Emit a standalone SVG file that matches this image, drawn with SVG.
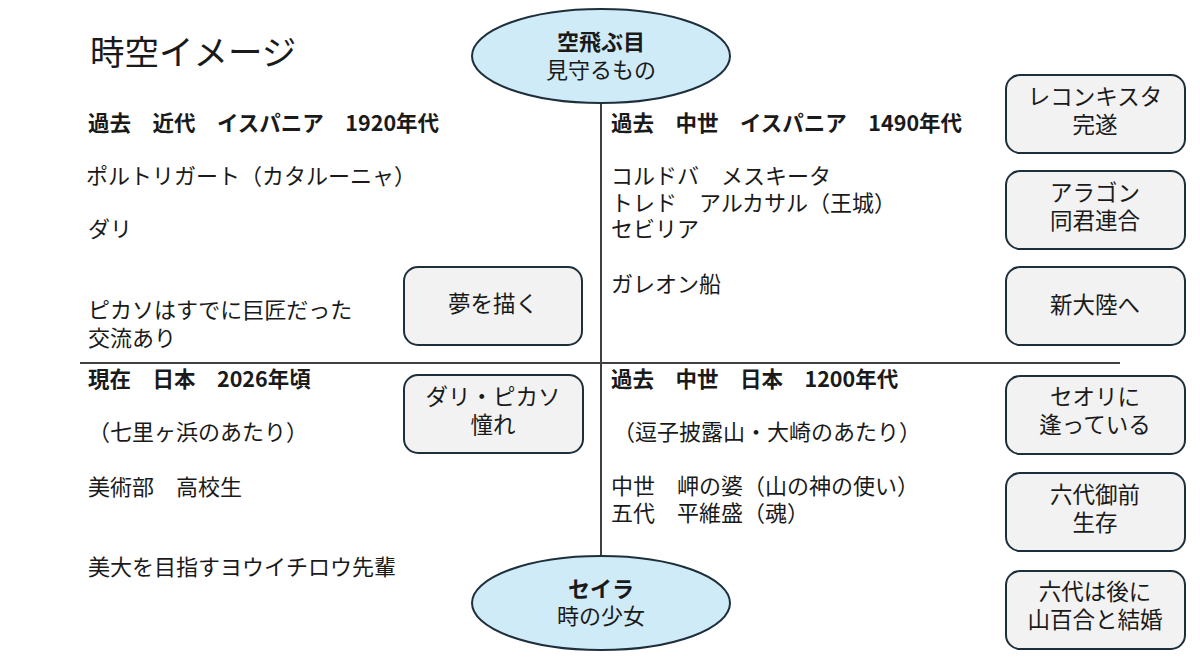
<svg xmlns="http://www.w3.org/2000/svg" width="1200" height="670" viewBox="0 0 1200 670">
<style>
text{font-family:"Noto Sans CJK JP","Noto Sans",sans-serif;fill:#1a1a1a;}
.t{font-size:22px;}
.h{font-size:21.5px;font-weight:bold;}
.c{text-anchor:middle;font-size:22.5px;}
.box{fill:#f2f2f2;stroke:#1e2f3c;stroke-width:2;}
.ell{fill:#d0ebf8;stroke:#1e2f3c;stroke-width:2;}
.ln{stroke:#404040;stroke-width:2;fill:none;}
</style>
<rect width="1200" height="670" fill="#ffffff"/>
<g id="connectors">
<line class="ln" x1="601" y1="103" x2="601" y2="556"/>
<line class="ln" x1="80" y1="363" x2="1120" y2="363"/>
</g>
<text x="90" y="65" style="font-size:34.5px">時空イメージ</text>
<g id="sky">
<ellipse class="ell" cx="601" cy="56" rx="129" ry="47"/>
<text class="c" x="601" style="font-size:22px"><tspan x="601" y="50" style="font-weight:bold">空飛ぶ目</tspan><tspan x="601" y="78">見守るもの</tspan></text>
</g>
<g id="seira">
<ellipse class="ell" cx="601" cy="603" rx="129" ry="47"/>
<text class="c" style="font-size:22px"><tspan x="601" y="597" style="font-weight:bold">セイラ</tspan><tspan x="601" y="624">時の少女</tspan></text>
</g>
<g id="q-spain-modern">
<text class="h" x="88" y="131">過去　近代　イスパニア　1920年代</text>
<text class="t" x="86" y="184">ポルトリガート（カタルーニャ）</text>
<text class="t" x="88" y="237">ダリ</text>
<text class="t"><tspan x="88" y="318">ピカソはすでに巨匠だった</tspan><tspan x="88" y="346">交流あり</tspan></text>
</g>
<g id="q-spain-medieval">
<text class="h" x="611" y="131">過去　中世　イスパニア　1490年代</text>
<text class="t"><tspan x="611" y="184">コルドバ　メスキータ</tspan><tspan x="611" y="211">トレド　アルカサル（王城）</tspan><tspan x="611" y="237">セビリア</tspan></text>
<text class="t" x="611" y="292">ガレオン船</text>
</g>
<g id="q-japan-now">
<text class="h" x="88" y="387">現在　日本　2026年頃</text>
<text class="t" x="88" y="440">（七里ヶ浜のあたり）</text>
<text class="t" x="88" y="495">美術部　高校生</text>
<text class="t" x="88" y="575">美大を目指すヨウイチロウ先輩</text>
</g>
<g id="q-japan-medieval">
<text class="h" x="611" y="387">過去　中世　日本　1200年代</text>
<text class="t" x="613" y="440">（逗子披露山・大崎のあたり）</text>
<text class="t"><tspan x="611" y="494">中世　岬の婆（山の神の使い）</tspan><tspan x="611" y="521">五代　平維盛（魂）</tspan></text>
</g>
<g id="box-yume">
<rect class="box" x="404" y="267" width="178" height="78" rx="14"/>
<text class="c" x="493" y="312">夢を描く</text>
</g>
<g id="box-dali">
<rect class="box" x="404" y="375" width="179" height="78" rx="14"/>
<text class="c"><tspan x="493" y="405">ダリ・ピカソ</tspan><tspan x="493" y="433">憧れ</tspan></text>
</g>
<g id="box-reconquista">
<rect class="box" x="1006" y="75" width="179" height="78" rx="14"/>
<text class="c"><tspan x="1095" y="105">レコンキスタ</tspan><tspan x="1095" y="133">完遂</tspan></text>
</g>
<g id="box-aragon">
<rect class="box" x="1006" y="171" width="179" height="78" rx="14"/>
<text class="c"><tspan x="1095" y="201">アラゴン</tspan><tspan x="1095" y="229">同君連合</tspan></text>
</g>
<g id="box-shintairiku">
<rect class="box" x="1006" y="267" width="179" height="78" rx="14"/>
<text class="c" x="1095" y="313">新大陸へ</text>
</g>
<g id="box-seori">
<rect class="box" x="1006" y="376" width="179" height="78" rx="14"/>
<text class="c"><tspan x="1095" y="405">セオリに</tspan><tspan x="1095" y="433">逢っている</tspan></text>
</g>
<g id="box-rokudai">
<rect class="box" x="1006" y="473" width="179" height="78" rx="14"/>
<text class="c"><tspan x="1095" y="503">六代御前</tspan><tspan x="1095" y="531">生存</tspan></text>
</g>
<g id="box-kekkon">
<rect class="box" x="1006" y="571" width="179" height="78" rx="14"/>
<text class="c"><tspan x="1095" y="600">六代は後に</tspan><tspan x="1095" y="628">山百合と結婚</tspan></text>
</g>
</svg>
